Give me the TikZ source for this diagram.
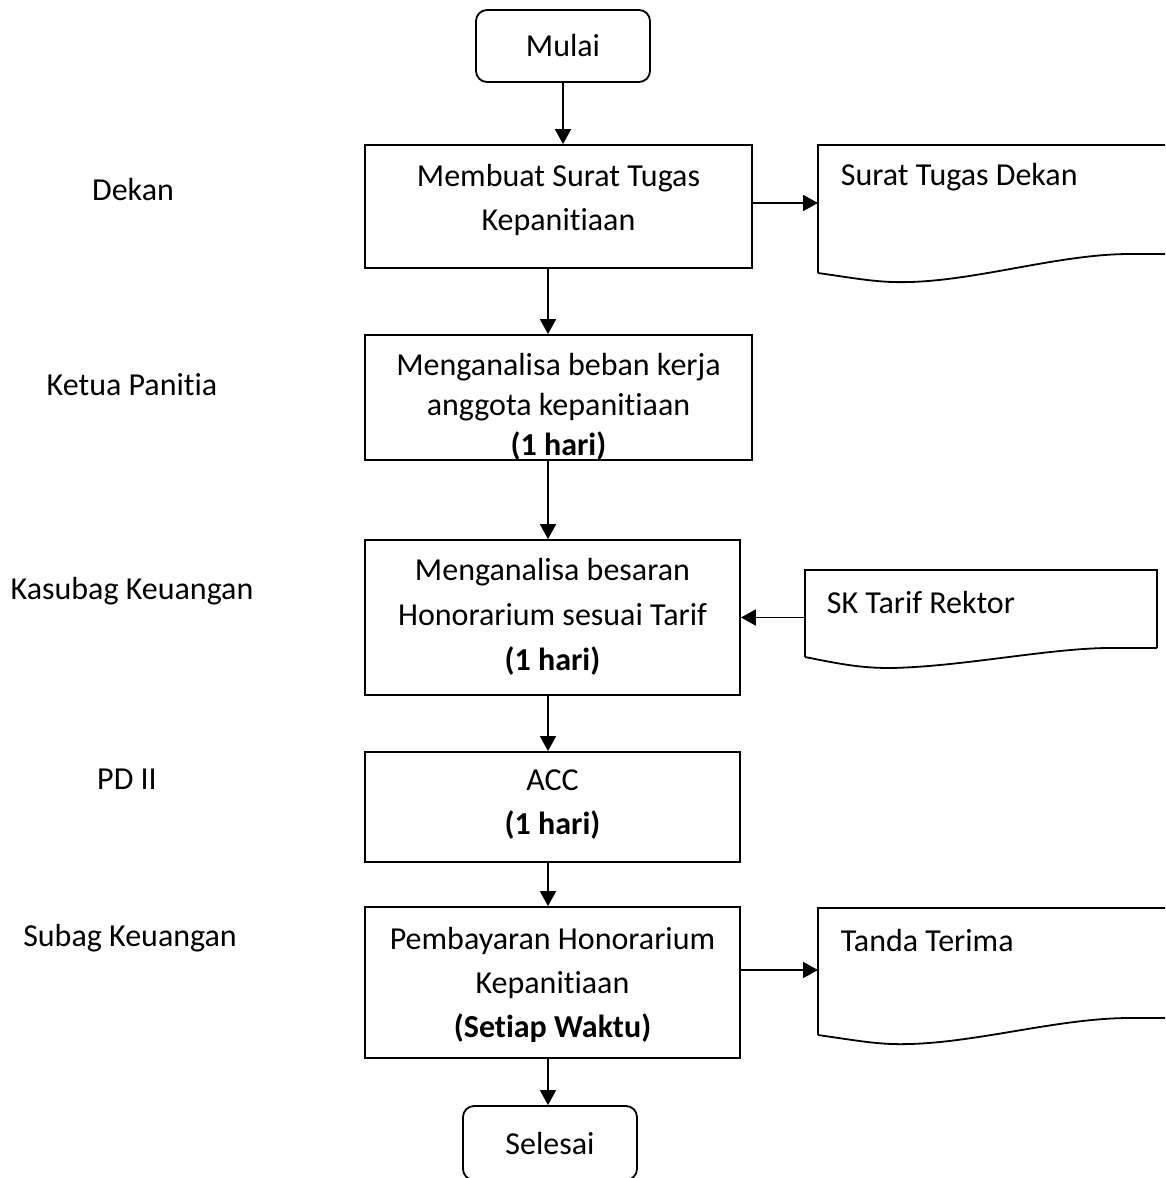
\documentclass[tikz,border=0pt]{standalone}
\usepackage{fontspec}
\setmainfont[Ligatures=NoCommon]{Carlito}
\usetikzlibrary{arrows.meta}
\begin{document}
\begin{tikzpicture}[x=1pt,y=-1pt,
  font=\fontsize{32}{44}\selectfont,
  line width=1.8pt,
  >={Triangle[length=15pt,width=16pt]},
  proc/.style={draw, inner sep=0pt},
  txt/.style={align=center, inner sep=0pt},
  term/.style={draw, rounded corners=11pt, inner sep=0pt},
  doc/.style={inner sep=0pt, anchor=north west},
  doctext/.style={anchor=west, inner sep=0pt},
  role/.style={inner sep=0pt}]
\useasboundingbox (0,0) rectangle (1165,1178);
\clip (0,0) rectangle (1165,1178);

% roles
\node[role] (r1) at (133,190) {Dekan};
\node[role] (r2) at (132,385) {Ketua Panitia};
\node[role] (r3) at (132,591) {Kasubag Keuangan};
\node[role] (r4) at (127,779) {PD II};
\node[role] (r5) at (130,938) {Subag Keuangan};

% terminators
\node[term, minimum width=174pt, minimum height=72pt] (start) at (563,46) {Mulai};
\node[term, minimum width=174pt, minimum height=74pt] (stop) at (550,1143) {Selesai};

% processes
\node[proc, minimum width=387pt, minimum height=123pt] (b1) at (558.5,206.5) {};
\node[txt] (b1t) at (558.5,200) {Membuat Surat Tugas\\Kepanitiaan};
\node[proc, minimum width=387pt, minimum height=125pt] (b2) at (558.5,397.5) {};
\node[txt, font=\fontsize{32}{40}\selectfont] (b2t) at (558.5,407) {Menganalisa beban kerja\\anggota kepanitiaan\\\textbf{(1 hari)}};
\node[proc, minimum width=375pt, minimum height=155pt] (b3) at (552.5,617.5) {};
\node[txt, font=\fontsize{32}{45}\selectfont] (b3t) at (552.5,617) {Menganalisa besaran\\Honorarium sesuai Tarif\\\textbf{(1 hari)}};
\node[proc, minimum width=375pt, minimum height=110pt] (b4) at (552.5,807) {};
\node[txt] (b4t) at (552.5,805) {ACC\\\textbf{(1 hari)}};
\node[proc, minimum width=375pt, minimum height=151pt] (b5) at (552.5,982.5) {};
\node[txt] (b5t) at (552.5,984.5) {Pembayaran Honorarium\\Kepanitiaan\\\textbf{(Setiap Waktu)}};

% documents
\node[doc, minimum width=352pt, minimum height=128pt] (d1) at (818,145) {};
\draw (818,273) -- (818,145) -- (1170,145);
\draw (818,273) .. controls (860,279) and (880,283) .. (910,282)
  .. controls (980,280) and (1060,254) .. (1130,254) -- (1170,254);
\node[doctext] (t1) at (840,177) {Surat Tugas Dekan};

\node[doc, minimum width=352pt, minimum height=98pt] (d2) at (805,570) {};
\draw (805,657) -- (805,570) -- (1157,570) -- (1157,648);
\draw (805,657) .. controls (840,664) and (860,668) .. (890,668)
  .. controls (960,667) and (1050,648) .. (1110,648) -- (1157,648);
\node[doctext] (t2) at (826,602) {SK Tarif Rektor};

\node[doc, minimum width=352pt, minimum height=137pt] (d3) at (818,908) {};
\draw (818,1035) -- (818,908) -- (1170,908);
\draw (818,1035) .. controls (860,1041) and (880,1045) .. (910,1044)
  .. controls (980,1042) and (1060,1018) .. (1130,1018) -- (1170,1018);
\node[doctext] (t3) at (840,940) {Tanda Terima};

% connectors
\coordinate (ax) at (548,0);
\draw[->] (start.south) -- (start.south |- b1.north);
\draw[->] (b1.south -| ax) -- (b2.north -| ax);
\draw[->] (b2.south -| ax) -- (b3.north -| ax);
\draw[->] (b3.south -| ax) -- (b4.north -| ax);
\draw[->] (b4.south -| ax) -- (b5.north -| ax);
\draw[->] (b5.south -| ax) -- (stop.north -| ax);
\coordinate (h1) at (0,203);
\draw[->] (b1.east |- h1) -- (d1.west |- h1);
\draw[->] (d2.west |- b3.east) -- (b3.east);
\coordinate (h3) at (0,970);
\draw[->] (b5.east |- h3) -- (d3.west |- h3);
\end{tikzpicture}
\end{document}
